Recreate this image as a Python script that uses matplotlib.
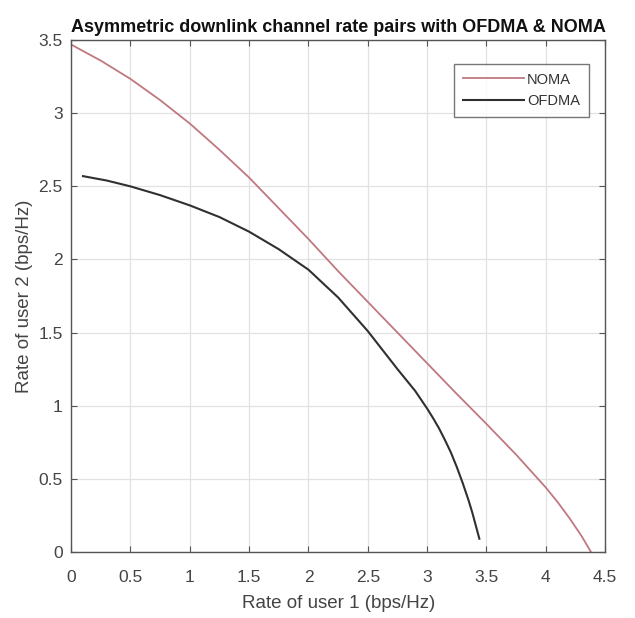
import numpy as np
import matplotlib
matplotlib.use("Agg")
import matplotlib.pyplot as plt

plt.rcParams['font.family'] = ['Liberation Sans', 'DejaVu Sans']

# NOMA boundary
noma_r1 = [0.0, 0.25, 0.5, 0.75, 1.0, 1.25, 1.5, 1.75, 2.0, 2.25, 2.5, 2.75, 3.0, 3.25, 3.5, 3.75, 4.0, 4.1, 4.2, 4.3, 4.38]
noma_r2 = [3.47, 3.36, 3.235, 3.09, 2.93, 2.75, 2.56, 2.35, 2.14, 1.92, 1.71, 1.50, 1.29, 1.08, 0.875, 0.665, 0.44, 0.34, 0.23, 0.11, 0.0]

# OFDMA boundary
ofdma_r1 = [0.1, 0.3, 0.5, 0.75, 1.0, 1.25, 1.5, 1.75, 2.0, 2.25, 2.5, 2.75, 2.9, 3.0, 3.05, 3.1, 3.15, 3.2, 3.25, 3.3, 3.35, 3.38, 3.41, 3.44]
ofdma_r2 = [2.57, 2.54, 2.50, 2.44, 2.37, 2.29, 2.19, 2.07, 1.93, 1.74, 1.51, 1.25, 1.10, 0.98, 0.915, 0.845, 0.765, 0.68, 0.58, 0.47, 0.35, 0.27, 0.18, 0.09]

xticks = [0, 0.5, 1, 1.5, 2, 2.5, 3, 3.5, 4, 4.5]
yticks = [0, 0.5, 1, 1.5, 2, 2.5, 3, 3.5]

fig = plt.figure(figsize=(6.35, 6.18), dpi=100)
ax = fig.add_axes([0.112, 0.107, 0.841, 0.828])

ax.plot(noma_r1, noma_r2, color='#c07880', lw=1.3, label='NOMA')
ax.plot(ofdma_r1, ofdma_r2, color='#303030', lw=1.5, label='OFDMA')

ax.set_xlim(0, 4.5)
ax.set_ylim(0, 3.5)
ax.set_xticks(xticks)
ax.set_yticks(yticks)
ax.set_xticklabels([f'{t:g}' for t in xticks])
ax.set_yticklabels([f'{t:g}' for t in yticks])
ax.grid(True, color='#e2e2e2', lw=0.9)
ax.set_axisbelow(True)
ax.tick_params(direction='in', top=True, right=True, length=4, width=0.8,
               colors='#555555', labelsize=12.5, labelcolor='#444444')
ax.tick_params(axis='x', pad=13)
ax.tick_params(axis='y', pad=6)
for s in ax.spines.values():
    s.set_color('#555555')
    s.set_linewidth(1.0)

ax.set_xlabel('Rate of user 1 (bps/Hz)', fontsize=13.5, color='#444444', labelpad=7)
ax.set_ylabel('Rate of user 2 (bps/Hz)', fontsize=13.5, color='#444444', labelpad=4)
ax.set_title('Asymmetric downlink channel rate pairs with OFDMA & NOMA',
             fontsize=13, fontweight='bold', color='#111111', pad=6)

leg = ax.legend(loc='upper right', fontsize=10.5, frameon=True, fancybox=False,
                handlelength=4.2, handletextpad=0.2, borderpad=0.6,
                bbox_to_anchor=(0.983, 0.968), labelspacing=0.5)
leg.get_frame().set_edgecolor('#555555')
leg.get_frame().set_linewidth(1.0)
for t in leg.get_texts():
    t.set_color('#333333')

fig.savefig('out.png', dpi=100)
